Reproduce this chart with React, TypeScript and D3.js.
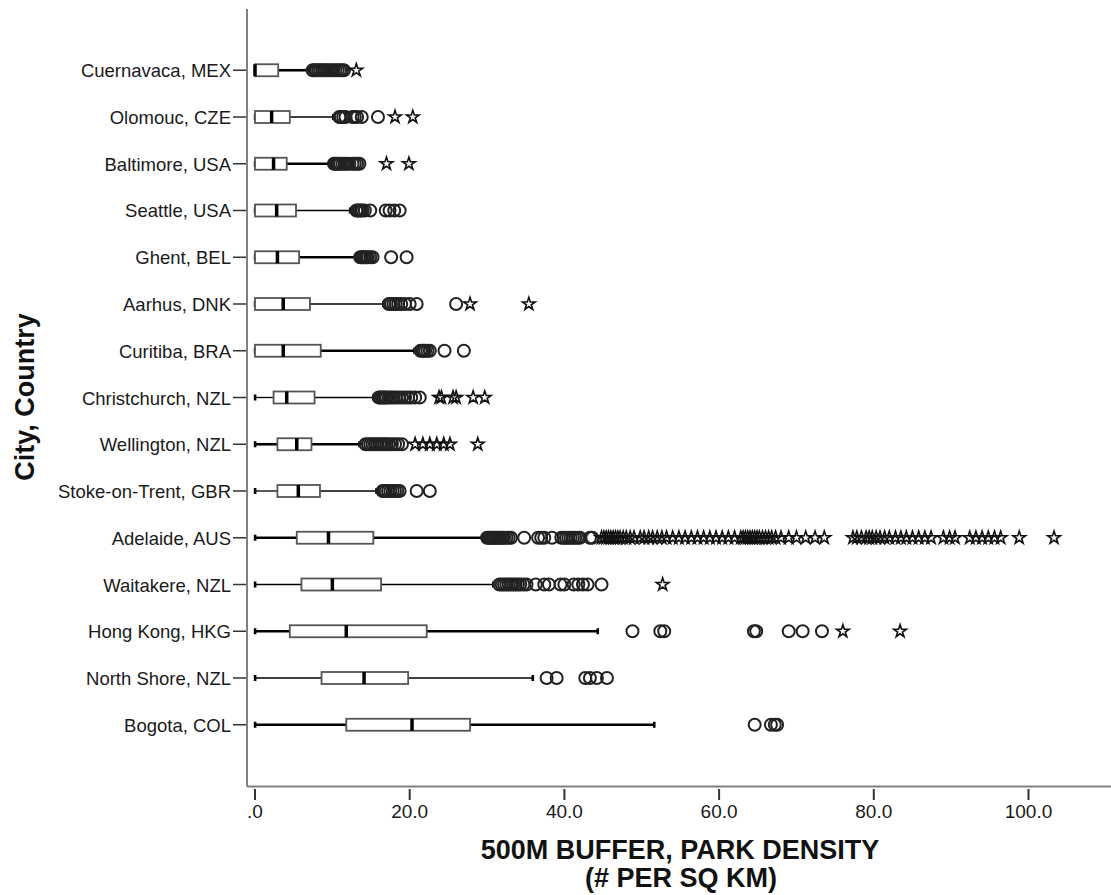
import React from 'react';
import * as d3 from 'd3';

const CITIES = [
  'Cuernavaca, MEX', 'Olomouc, CZE', 'Baltimore, USA', 'Seattle, USA', 'Ghent, BEL',
  'Aarhus, DNK', 'Curitiba, BRA', 'Christchurch, NZL', 'Wellington, NZL', 'Stoke-on-Trent, GBR',
  'Adelaide, AUS', 'Waitakere, NZL', 'Hong Kong, HKG', 'North Shore, NZL', 'Bogota, COL',
];

const WHISKER_LO = [0, 0, 0, 0, 0, 0, 0, 0, 0, 0, 0, 0, 0, 0, 0];
const Q1 = [0, 0, 0, 0, 0, 0, 0, 2.4, 2.9, 2.9, 5.4, 6.0, 4.5, 8.6, 11.8];
const MEDIAN = [0, 2.15, 2.4, 2.8, 2.9, 3.65, 3.65, 4.1, 5.4, 5.6, 9.5, 10.0, 11.8, 14.1, 20.3];
const Q3 = [3.0, 4.5, 4.1, 5.3, 5.7, 7.1, 8.5, 7.7, 7.3, 8.4, 15.3, 16.3, 22.2, 19.8, 27.8];
const WHISKER_HI = [7.0, 10.1, 9.6, 12.3, 13.0, 16.6, 20.6, 15.3, 13.5, 15.7, 29.5, 30.8, 44.3, 35.9, 51.6];

// circles (outliers)
const OUTLIERS: number[][] = [
  [7.45, 7.7, 7.95, 8.2, 8.45, 8.7, 8.95, 9.2, 9.5, 9.8, 10.1, 10.4, 10.7, 11.0, 11.25, 11.5],
  [10.9, 11.1, 11.4, 11.7, 12.6, 12.9, 13.2, 13.8, 15.9],
  [10.2, 10.4, 10.6, 10.8, 11.0, 11.3, 11.6, 11.9, 12.2, 12.6, 12.9, 13.2, 13.5],
  [13.1, 13.3, 13.5, 13.7, 13.9, 14.2, 14.9, 16.9, 17.4, 18.0, 18.7],
  [13.6, 13.8, 14.0, 14.2, 14.4, 14.6, 14.9, 15.2, 17.6, 19.6],
  [17.3, 17.6, 17.9, 18.2, 18.5, 18.9, 19.4, 20.0, 20.9, 26.0],
  [21.4, 21.6, 21.8, 22.0, 22.3, 22.6, 24.5, 27.0],
  [16.0, 16.2, 16.4, 16.6, 16.8, 17.0, 17.3, 17.6, 17.9, 18.2, 18.6, 19.0, 19.4, 19.8, 20.2, 20.7, 21.3],
  [14.3, 14.6, 14.9, 15.2, 15.5, 15.8, 16.1, 16.4, 16.7, 17.0, 17.3, 17.7, 18.1, 18.5, 19.0],
  [16.5, 16.7, 16.9, 17.2, 17.5, 17.8, 18.1, 18.4, 18.7, 20.9, 22.6],
  [30.0, 30.2, 30.4, 30.6, 30.8, 31.0, 31.2, 31.4, 31.6, 31.8, 32.0, 32.2, 32.5, 32.8, 33.1,
    34.8, 36.6, 37.0, 37.4, 38.4, 39.6, 39.9, 40.2, 40.5, 40.8, 41.1, 41.4, 41.7, 42.0, 43.3, 43.6],
  [31.6, 31.9, 32.2, 32.5, 32.8, 33.1, 33.4, 33.7, 34.0, 34.3, 34.7, 35.1, 36.3, 37.4, 38.0,
    39.5, 40.0, 41.2, 41.8, 42.4, 43.0, 44.8],
  [48.8, 52.4, 52.9, 64.5, 64.8, 69.0, 70.8, 73.3],
  [37.7, 39.0, 42.7, 43.3, 44.2, 45.5],
  [64.6, 66.7, 67.2, 67.5],
];

// stars (extremes)
const EXTREMES: number[][] = [
  [13.1],
  [18.1, 20.4],
  [17.0, 19.9],
  [],
  [],
  [27.8, 35.4],
  [],
  [23.8, 24.1, 25.6, 26.0, 28.2, 29.7],
  [20.7, 21.7, 22.6, 23.5, 24.4, 25.2, 28.8],
  [],
  [44.8, 45.1, 45.4, 45.7, 46.0, 46.3, 46.6, 46.9, 47.2, 47.6, 48.0, 48.5, 49.0,
    49.8, 50.3, 50.9, 51.4, 52.0, 52.6, 53.2, 54.0, 54.8, 55.6, 56.4, 57.2, 58.0, 58.8,
    59.6, 60.4, 61.2, 62.0, 62.8, 63.1, 63.4, 63.7, 64.0, 64.3, 64.6, 64.9, 65.2, 65.6,
    66.0, 66.4, 66.8, 67.3, 68.0, 69.0, 70.0, 71.2, 72.4, 73.6, 77.3, 77.8, 78.4, 79.0,
    79.4, 79.8, 80.3, 80.8, 81.4, 82.0, 82.8, 83.5, 84.2, 85.0, 85.8, 86.6, 87.4, 89.0,
    89.8, 90.5, 92.4, 93.2, 94.0, 94.8, 95.6, 96.4, 98.8, 103.3],
  [52.7],
  [76.0, 83.4],
  [],
  [],
];

const X_TICKS = [0, 20, 40, 60, 80, 100];
const X_TICK_LABELS = ['.0', '20.0', '40.0', '60.0', '80.0', '100.0'];

const W = 1111;
const H = 895;
const FONT = "'Liberation Sans', Arial, sans-serif";

export default function App() {
  const x = d3.scaleLinear().domain([0, 100]).range([255, 1028.5]);
  const y = d3.scalePoint<string>().domain(CITIES).range([9, 786]).padding(1.31);
  const axisX = 247;
  const axisY = 786.5;
  const boxH = 12;
  const starPath = d3.symbol().type(d3.symbolStar).size(50)() as string;

  return (
    <svg width={W} height={H} style={{ position: 'absolute', left: 0, top: 0, background: '#fff' }}>
      {/* axes */}
      <line x1={axisX} x2={axisX} y1={9} y2={axisY} stroke="#808080" strokeWidth={2} />
      <line x1={axisX} x2={W} y1={axisY} y2={axisY} stroke="#808080" strokeWidth={2} />

      {X_TICKS.map((t, i) => (
        <g key={t}>
          <line x1={x(t)} x2={x(t)} y1={789} y2={800} stroke="#333" strokeWidth={2} />
          <text x={x(t)} y={818} textAnchor="middle" fontFamily={FONT} fontSize={19} fill="#1a1a1a">
            {X_TICK_LABELS[i]}
          </text>
        </g>
      ))}

      {CITIES.map((c) => (
        <g key={c}>
          <line x1={233} x2={246} y1={y(c)!} y2={y(c)!} stroke="#333" strokeWidth={1.5} />
          <text x={231} y={y(c)! + 7} textAnchor="end" fontFamily={FONT} fontSize={18.5} fill="#1a1a1a">
            {c}
          </text>
        </g>
      ))}

      {/* boxes */}
      {CITIES.map((c, i) => {
        const cy = y(c)!;
        const sw = i % 2 === 0 ? 2.6 : 1.3;
        return (
          <g key={c}>
            <line x1={x(WHISKER_LO[i])} x2={x(Q1[i])} y1={cy} y2={cy} stroke="#000" strokeWidth={sw} />
            <line x1={x(Q3[i])} x2={x(WHISKER_HI[i])} y1={cy} y2={cy} stroke="#000" strokeWidth={sw} />
            <rect x={x(WHISKER_LO[i]) - 1.2} y={cy - 3} width={2.6} height={6} fill="#000" />
            <rect x={x(WHISKER_HI[i]) - 1.2} y={cy - 3} width={2.6} height={6} fill="#000" />
            <rect
              x={x(Q1[i])}
              y={cy - boxH / 2}
              width={x(Q3[i]) - x(Q1[i])}
              height={boxH}
              fill="#fff"
              stroke="#555"
              strokeWidth={1.8}
            />
            <line x1={x(MEDIAN[i])} x2={x(MEDIAN[i])} y1={cy - boxH / 2} y2={cy + boxH / 2} stroke="#000" strokeWidth={3.5} />
            {OUTLIERS[i].map((v, k) => (
              <circle key={'o' + k} cx={x(v)} cy={cy} r={6} fill="none" stroke="#222" strokeWidth={2} />
            ))}
            {EXTREMES[i].map((v, k) => (
              <path
                key={'e' + k}
                d={starPath}
                transform={`translate(${x(v)},${cy})`}
                fill="none"
                stroke="#111"
                strokeWidth={1.6}
              />
            ))}
          </g>
        );
      })}

      {/* titles */}
      <text x={680} y={859} textAnchor="middle" fontFamily={FONT} fontWeight="bold" fontSize={27} fill="#111">
        500M BUFFER, PARK DENSITY
      </text>
      <text x={681} y={887} textAnchor="middle" fontFamily={FONT} fontWeight="bold" fontSize={27} fill="#111">
        (# PER SQ KM)
      </text>
      <text
        transform={`translate(34, 397) rotate(-90)`}
        textAnchor="middle"
        fontFamily={FONT}
        fontWeight="bold"
        fontSize={27}
        fill="#111"
      >
        City, Country
      </text>
    </svg>
  );
}
